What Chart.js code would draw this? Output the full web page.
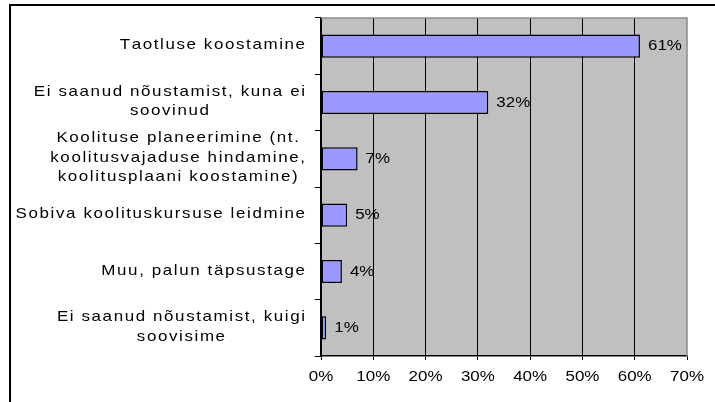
<!DOCTYPE html>
<html>
<head>
<meta charset="utf-8">
<script src="https://cdn.jsdelivr.net/npm/chart.js@4/dist/chart.umd.min.js"></script>
<style>
html,body{margin:0;padding:0;background:#fff;}
#wrap{width:715px;height:402px;position:relative;}
</style>
</head>
<body>
<div id="wrap"><canvas id="c" width="715" height="402"></canvas></div>
<script>
const categories = [
  ["Taotluse koostamine"],
  ["Ei saanud nõustamist, kuna ei", "soovinud"],
  ["Koolituse planeerimine (nt.", "koolitusvajaduse hindamine,", "koolitusplaani koostamine)"],
  ["Sobiva koolituskursuse leidmine"],
  ["Muu, palun täpsustage"],
  ["Ei saanud nõustamist, kuigi", "soovisime"]
];
const values = [61, 32, 7, 5, 4, 1];
const xTicks = [0, 10, 20, 30, 40, 50, 60, 70];

const FONT = '14.5px "Liberation Sans", Arial, sans-serif';
const SX = 1.17;

function spacedWidth(ctx, text, ls) {
  let w = 0;
  for (const ch of text) w += ctx.measureText(ch).width * SX + ls;
  return w - ls;
}
function drawSpaced(ctx, text, x, y, ls, align) {
  const w = spacedWidth(ctx, text, ls);
  let cx = align === 'right' ? x - w : align === 'center' ? x - w / 2 : x;
  ctx.textAlign = 'left';
  for (const ch of text) {
    ctx.save();
    ctx.translate(cx, y);
    ctx.scale(SX, 1);
    ctx.fillText(ch, 0, 0);
    ctx.restore();
    cx += ctx.measureText(ch).width * SX + ls;
  }
}

const deco = {
  id: 'deco',
  beforeDraw(chart) {
    const ctx = chart.ctx, a = chart.chartArea;
    ctx.save();
    ctx.strokeStyle = '#000';
    ctx.lineWidth = 2;
    ctx.strokeRect(10, 5, 800, 500);
    ctx.fillStyle = '#C0C0C0';
    ctx.fillRect(a.left, a.top, a.right - a.left, a.bottom - a.top);
    ctx.restore();
  },
  beforeDatasetsDraw(chart) {
    const ctx = chart.ctx, a = chart.chartArea;
    ctx.save();
    ctx.strokeStyle = '#8c8c8c';
    ctx.lineWidth = 1.5;
    ctx.beginPath();
    ctx.moveTo(a.left, a.top);
    ctx.lineTo(a.right, a.top);
    ctx.lineTo(a.right, a.bottom);
    ctx.stroke();
    ctx.restore();
  },
  afterDraw(chart) {
    const ctx = chart.ctx;
    const ys = chart.scales.y, xs = chart.scales.x;
    ctx.save();
    ctx.font = FONT;
    ctx.fillStyle = '#000';
    ctx.textBaseline = 'middle';
    const lh = 19.5;
    const LS = 1.6;
    categories.forEach((lines, i) => {
      const cy = ys.getPixelForValue(i) - 1;
      let bw = 0;
      lines.forEach(l => { bw = Math.max(bw, spacedWidth(ctx, l, LS)); });
      const right = xs.left - 16;
      const cx = right - bw / 2;
      const y0 = cy - (lines.length - 1) * lh / 2;
      lines.forEach((l, k) => drawSpaced(ctx, l, cx, y0 + k * lh, LS, 'center'));
    });
    xTicks.forEach(v => {
      drawSpaced(ctx, v + '%', xs.getPixelForValue(v), 377, 0, 'center');
    });
    const meta = chart.getDatasetMeta(0);
    meta.data.forEach((bar, i) => {
      drawSpaced(ctx, values[i] + '%', bar.x + 8, bar.y, 0, 'left');
    });
    ctx.restore();
  }
};

new Chart(document.getElementById('c'), {
  type: 'bar',
  data: {
    labels: categories,
    datasets: [{
      data: values,
      backgroundColor: '#9999FF',
      borderColor: '#000',
      borderWidth: 1.5,
      borderSkipped: false,
      barPercentage: 0.41,
      categoryPercentage: 1
    }]
  },
  options: {
    indexAxis: 'y',
    responsive: false,
    animation: false,
    devicePixelRatio: 1,
    layout: { padding: { top: 18, right: 28, left: 0, bottom: 0 } },
    plugins: { legend: { display: false }, tooltip: { enabled: false } },
    scales: {
      x: {
        type: 'linear',
        min: 0, max: 70,
        ticks: { display: false, stepSize: 10 },
        grid: {
          color: c => (c.tick && c.tick.value === 70) ? 'rgba(0,0,0,0)' : '#000',
          tickColor: '#000',
          lineWidth: 1,
          drawTicks: true,
          tickLength: 4
        },
        border: { color: '#000', width: 1.5 },
        afterFit: s => { s.height = 46; }
      },
      y: {
        ticks: { display: false },
        grid: { drawOnChartArea: false, color: '#000', tickLength: 6, offset: true },
        border: { color: '#000', width: 1.5 },
        afterFit: s => { s.width = 321; }
      }
    }
  },
  plugins: [deco]
});
</script>
</body>
</html>
